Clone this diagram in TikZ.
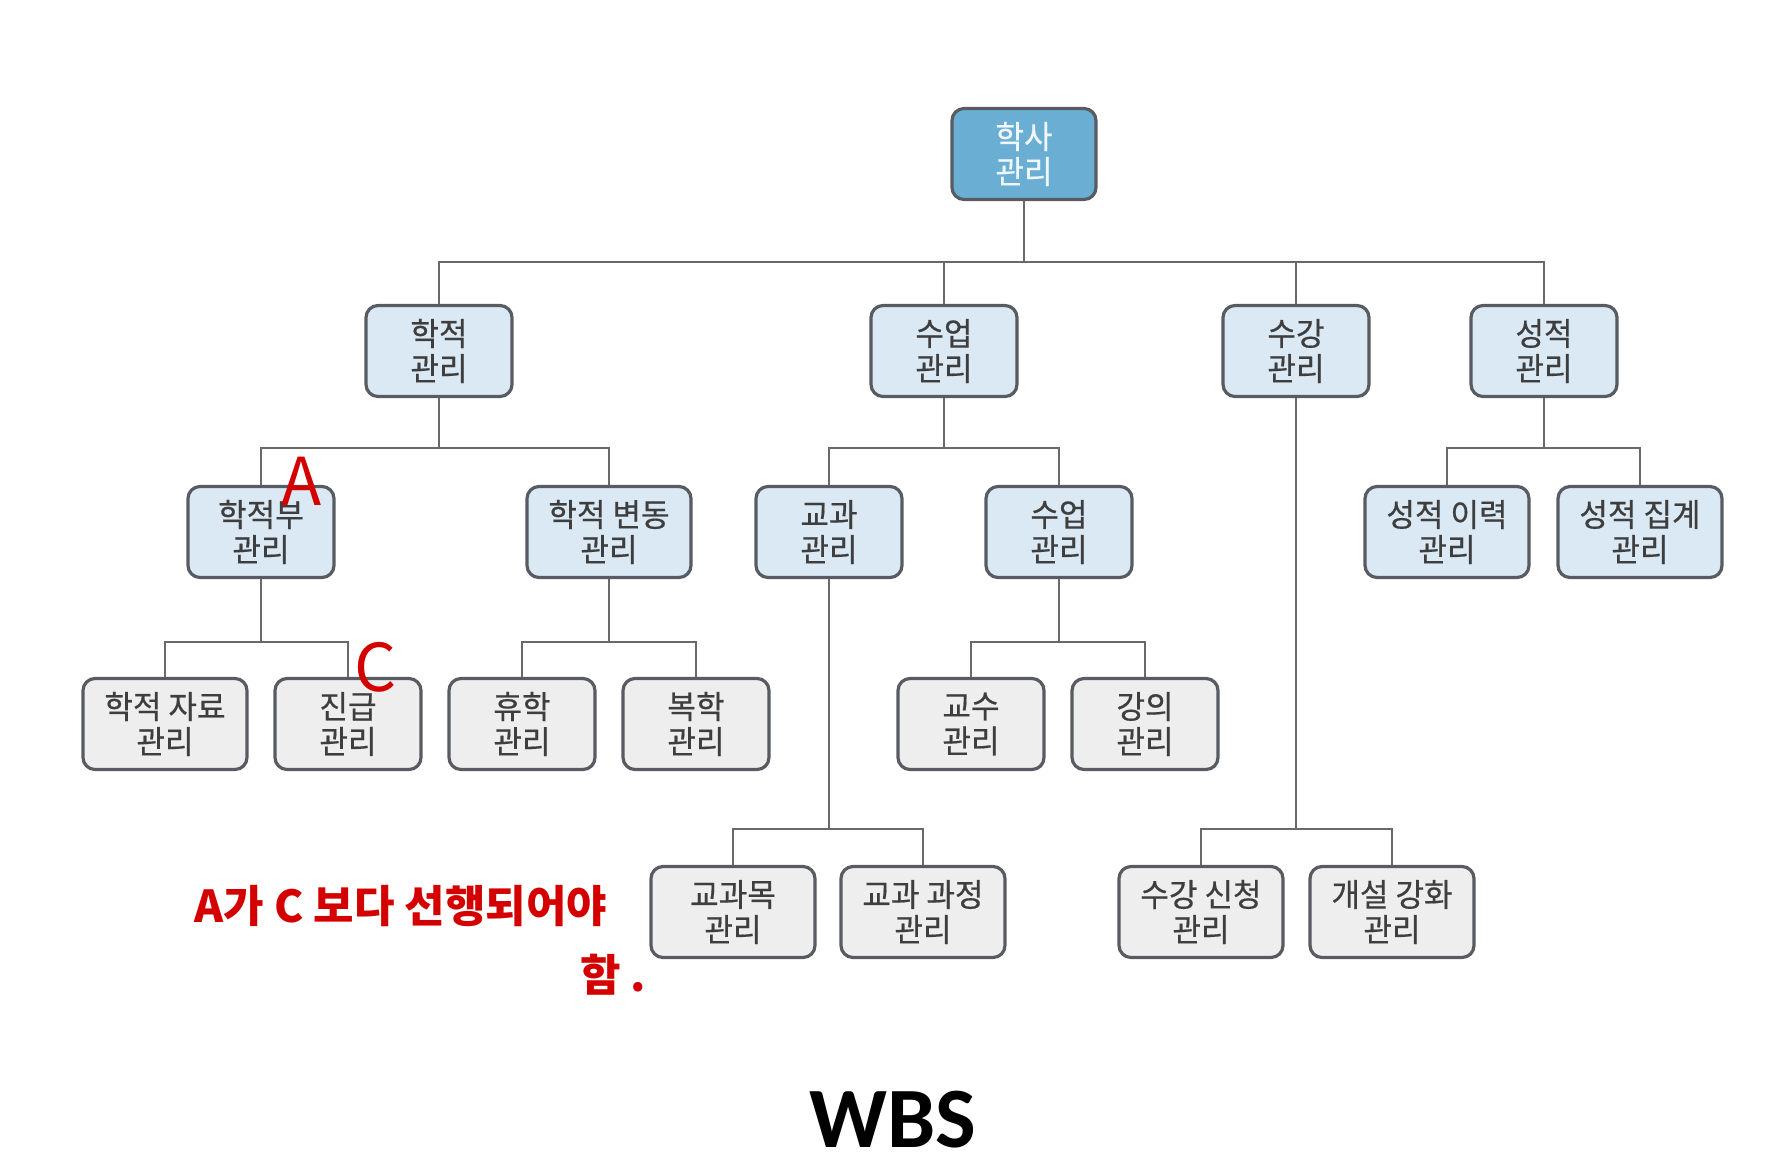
\documentclass[tikz,border=0pt]{standalone}
\usepackage{fontspec}
\setmainfont{Noto Sans CJK KR}[FakeStretch=0.97, FakeBold=0.5]
\newfontfamily\wbsfont{Carlito}
\newfontfamily\notefont{Noto Sans CJK KR}
\usepackage{tikz}
\usetikzlibrary{positioning}
\usepackage{xcolor}
\definecolor{rootblue}{RGB}{106,174,212}
\definecolor{midblue}{RGB}{218,233,244}
\definecolor{leafgray}{RGB}{238,238,238}
\definecolor{edgegray}{RGB}{88,92,98}
\definecolor{textgray}{RGB}{62,62,62}
\definecolor{linegray}{RGB}{105,105,105}
\definecolor{notered}{RGB}{212,0,0}

\begin{document}
\begin{tikzpicture}[x=1pt, y=-1pt,
      wbsbox/.style={draw=edgegray, line width=3.2pt, rounded corners=12pt, minimum height=91pt,
        align=center, inner sep=0pt, text=textgray, font=\fontsize{32}{35}\selectfont},
      rootbox/.style={wbsbox, fill=rootblue, text=white!90!rootblue, minimum width=144pt},
      midbox/.style={wbsbox, fill=midblue, minimum width=#1}, midbox/.default=146pt,
      leafbox/.style={wbsbox, fill=leafgray, minimum width=#1}, leafbox/.default=146pt,
      link/.style={draw=linegray, line width=2.8pt},
      handnote/.style={text=notered, font=\notefont\bfseries\fontsize{44}{70}\selectfont, align=center}]
      \useasboundingbox (0,0) rectangle (1787,1175);
      % Bus heights
      \coordinate (b0) at (0,262);
      \coordinate (b1) at (0,448);
      \coordinate (b2) at (0,642);
      \coordinate (b3) at (0,829);
      % Root
      \node[rootbox] (root) at (1024,154) {학사\\관리};
      % Level 1
      \node[midbox] (hakjeok) at (439,351) {학적\\관리};
      \node[midbox] (sueop) at (944,351) {수업\\관리};
      \node[midbox] (sugang) at (1296,351) {수강\\관리};
      \node[midbox] (seongjeok) at (1544,351) {성적\\관리};
      % Level 2
      \node[midbox] (hakjeokbu) at (261,532) {학적부\\관리};
      \node[midbox=164pt] (byeondong) at (609,532) {학적 변동\\관리};
      \node[midbox] (gyogwa) at (829,532) {교과\\관리};
      \node[midbox] (sueopsub) at (1059,532) {수업\\관리};
      \node[midbox=164pt] (iryeok) at (1447,532) {성적 이력\\관리};
      \node[midbox=164pt] (jipgye) at (1640,532) {성적 집계\\관리};
      % Level 3
      \node[leafbox=164pt] (jaryo) at (165,724) {학적 자료\\관리};
      \node[leafbox] (jingeup) at (348,724) {진급\\관리};
      \node[leafbox] (hyuhak) at (522,724) {휴학\\관리};
      \node[leafbox] (bokhak) at (696,724) {복학\\관리};
      \node[leafbox] (gyosu) at (971,724) {교수\\관리};
      \node[leafbox] (gangui) at (1145,724) {강의\\관리};
      % Level 4
      \node[leafbox=164pt] (gyogwamok) at (733,912) {교과목\\관리};
      \node[leafbox=164pt] (gwajeong) at (923,912) {교과 과정\\관리};
      \node[leafbox=164pt] (sincheong) at (1201,912) {수강 신청\\관리};
      \node[leafbox=164pt] (gaeseol) at (1392,912) {개설 강화\\관리};
      % Connectors
      \foreach \kid in {hakjeok,sueop,sugang,seongjeok}
        \draw[link] (root.south) -- (root.south |- b0) -| (\kid.north);
      \foreach \kid in {hakjeokbu,byeondong}
        \draw[link] (hakjeok.south) -- (hakjeok.south |- b1) -| (\kid.north);
      \foreach \kid in {gyogwa,sueopsub}
        \draw[link] (sueop.south) -- (sueop.south |- b1) -| (\kid.north);
      \foreach \kid in {iryeok,jipgye}
        \draw[link] (seongjeok.south) -- (seongjeok.south |- b1) -| (\kid.north);
      \foreach \kid in {jaryo,jingeup}
        \draw[link] (hakjeokbu.south) -- (hakjeokbu.south |- b2) -| (\kid.north);
      \foreach \kid in {hyuhak,bokhak}
        \draw[link] (byeondong.south) -- (byeondong.south |- b2) -| (\kid.north);
      \foreach \kid in {gyosu,gangui}
        \draw[link] (sueopsub.south) -- (sueopsub.south |- b2) -| (\kid.north);
      \foreach \kid in {gyogwamok,gwajeong}
        \draw[link] (gyogwa.south) -- (gyogwa.south |- b3) -| (\kid.north);
      \foreach \kid in {sincheong,gaeseol}
        \draw[link] (sugang.south) -- (sugang.south |- b3) -| (\kid.north);
      % Notes
      \node[handnote, font=\notefont\fontsize{66}{70}\selectfont] (marka) at (302,481) {A};
      \node[handnote, font=\notefont\fontsize{66}{70}\selectfont] (markc) at (376,667) {C};
      \node[handnote] (note) at (401,906) {A가 C 보다 선행되어야};
      \node[handnote] (notetail) at (613,975) {함 .};
      % Title
      \node[font=\wbsfont\bfseries\fontsize{86}{90}\selectfont] (title) at (893,1120) {WBS};
    \end{tikzpicture}
\end{document}
